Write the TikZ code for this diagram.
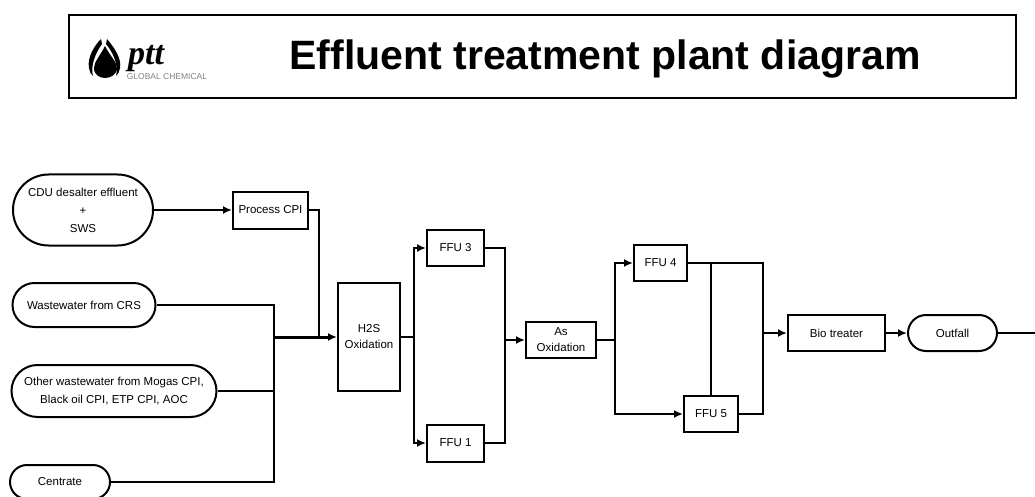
\documentclass[tikz,border=0pt]{standalone}
\usepackage{fontspec}
\setmainfont{Liberation Sans}
\newfontfamily\logofont{Liberation Serif}
\usetikzlibrary{shapes.misc, arrows.meta}
\tikzset{
    unitbox/.style={draw, line width=2pt, inner sep=0pt, align=center, font=\fontsize{11.5}{16}\selectfont},
    feedbox/.style={draw, line width=2pt, rounded rectangle, inner sep=0pt, align=center, font=\fontsize{11.5}{18}\selectfont},
    pipe/.style={line width=2pt},
    flow/.style={line width=2pt, -{Latex[length=9pt, width=8pt]}},
}
\begin{document}
\begin{tikzpicture}[x=1pt, y=-1pt]
    \clip (0,0) rectangle (1035,497);

    % Title
    \node[draw, line width=2pt, minimum width=947pt, minimum height=83pt] (header) at (542,57) {};
    \node[font=\fontsize{41}{48}\selectfont\bfseries] (title) at (605,59) {Effluent treatment plant diagram};

    % Logo
    \fill (105,46) .. controls (100,56) and (94,62) .. (94,68) .. controls (94,75) and (100,78) .. (105,78)
        .. controls (110,78) and (117,75) .. (117,68) .. controls (117,62) and (110,56) .. (105,46);
    \fill (101,39) .. controls (94,46) and (87,58) .. (89,68) .. controls (90,72) and (91,75) .. (93,76)
        .. controls (90,66) and (96,52) .. (102,44) -- cycle;
    \fill (107,39) .. controls (113,46) and (122,58) .. (120,68) .. controls (119,72) and (118,75) .. (116,76)
        .. controls (119,66) and (113,52) .. (106,44) -- cycle;
    \node[font=\fontsize{34}{34}\logofont\bfseries\itshape, inner sep=0pt] (ptt) at (146,59) {ptt};
    \node[font=\fontsize{8.5}{10}\selectfont, text=black!50, inner sep=0pt] (chem) at (167,77) {GLOBAL CHEMICAL};

    % Feeds
    \node[feedbox, minimum width=140pt, minimum height=71pt] (cdu) at (83,210) {CDU desalter effluent\\+\\SWS};
    \node[feedbox, minimum width=143pt, minimum height=44pt] (crs) at (84,305) {Wastewater from CRS};
    \node[feedbox, minimum width=205pt, minimum height=52pt] (other) at (114,391) {Other wastewater from Mogas CPI,\\Black oil CPI, ETP CPI, AOC};
    \node[feedbox, minimum width=100pt, minimum height=34pt] (centrate) at (60,482) {Centrate};

    % Units
    \node[unitbox, minimum width=75pt, minimum height=37pt] (pcpi) at (270.5,210) {Process CPI};
    \node[unitbox, minimum width=62pt, minimum height=108pt] (h2s) at (369,337) {H2S\\Oxidation};
    \node[unitbox, minimum width=57pt, minimum height=36pt] (ffu3) at (455.5,248) {FFU 3};
    \node[unitbox, minimum width=57pt, minimum height=37pt] (ffu1) at (455.5,443) {FFU 1};
    \node[unitbox, minimum width=70pt, minimum height=36pt] (as) at (561,340) {As\\Oxidation};
    \node[unitbox, minimum width=53pt, minimum height=36pt] (ffu4) at (660.5,263) {FFU 4};
    \node[unitbox, minimum width=54pt, minimum height=36pt] (ffu5) at (711,414) {FFU 5};
    \node[unitbox, minimum width=97pt, minimum height=36pt] (bio) at (836.5,333) {Bio treater};
    \node[feedbox, minimum width=89pt, minimum height=36pt] (outfall) at (952.5,333) {Outfall};

    % Junctions
    \coordinate (mix) at (274,337);
    \coordinate (cpijoin) at (319,337);
    \coordinate (split1) at (414,337);
    \coordinate (merge1) at (505,340);
    \coordinate (split2) at (615,340);
    \coordinate (merge2) at (763,333);
    \coordinate (outend) at (1035,333);

    % Feed lines
    \draw[flow] (cdu.east) -- (pcpi.west);
    \draw[pipe] (pcpi.east) -| (cpijoin);
    \draw[pipe] (crs.east) -| (mix);
    \draw[pipe] (other.east) -| (mix);
    \draw[pipe] (centrate.east) -| (mix);
    \draw[line width=3pt, -{Latex[length=9pt, width=8pt]}] (mix) -- (h2s.west);

    % First filter pair
    \draw[pipe] (h2s.east) -- (split1);
    \draw[flow] (split1) |- (ffu3.west);
    \draw[flow] (split1) |- (ffu1.west);
    \draw[pipe] (ffu3.east) -| (merge1);
    \draw[pipe] (ffu1.east) -| (merge1);
    \draw[flow] (merge1) -- (as.west);

    % Second filter pair
    \draw[pipe] (as.east) -- (split2);
    \draw[flow] (split2) |- (ffu4.west);
    \draw[flow] (split2) |- (ffu5.west);
    \draw[pipe] (ffu4.east) -| (merge2);
    \draw[pipe] (ffu5.east) -| (merge2);
    \draw[pipe] (ffu4.east -| ffu5.north) -- (ffu5.north);
    \draw[flow] (merge2) -- (bio.west);

    % Outlet
    \draw[flow] (bio.east) -- (outfall.west);
    \draw[pipe] (outfall.east) -- (outend);
\end{tikzpicture}
\end{document}
